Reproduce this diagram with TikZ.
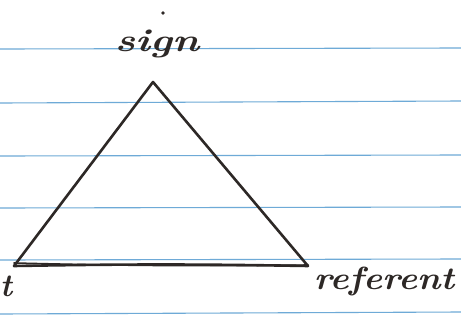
\documentclass[tikz,border=0pt]{standalone}
\usepackage{fontspec}
\begin{document}
\begin{tikzpicture}[x=1pt,y=-1pt,
  rule/.style={draw=ruleblue,line width=1.1pt},
  pen/.style={draw=ink,line width=2.6pt,line cap=round,line join=round},
  hand/.style={text=ink,font=\fontsize{32}{34}\selectfont\bfseries\itshape,inner sep=0pt}]
\definecolor{ruleblue}{RGB}{110,170,215}
\definecolor{ink}{RGB}{45,40,38}
\useasboundingbox (0,0) rectangle (461,330);
\fill[white] (0,0) rectangle (461,330);
% ruled paper
\foreach \yy/\yr in {49/48,103/101,156/155,208/207,260/259,314/312}
  \draw[rule] (0,\yy) -- (461,\yr);
% vertices
\coordinate (apex) at (153,82);
\coordinate (left) at (14,266);
\coordinate (right) at (308,266);
% triangle
\draw[pen] (left) -- (apex) -- (right);
\draw[pen] (left) to[bend left=1] (right);
\draw[pen,line width=1.6pt] ([yshift=3]left) to[bend right=1] ([yshift=1]right);
% labels
\node[hand,xscale=1.3] (sign) at (157,44) {sign};
\node[hand] (t) at (6,286) {t};
\node[hand,xscale=1.12] (referent) at (384,281) {referent};
\fill[ink] (163,13) circle (1.8pt);
\end{tikzpicture}
\end{document}
